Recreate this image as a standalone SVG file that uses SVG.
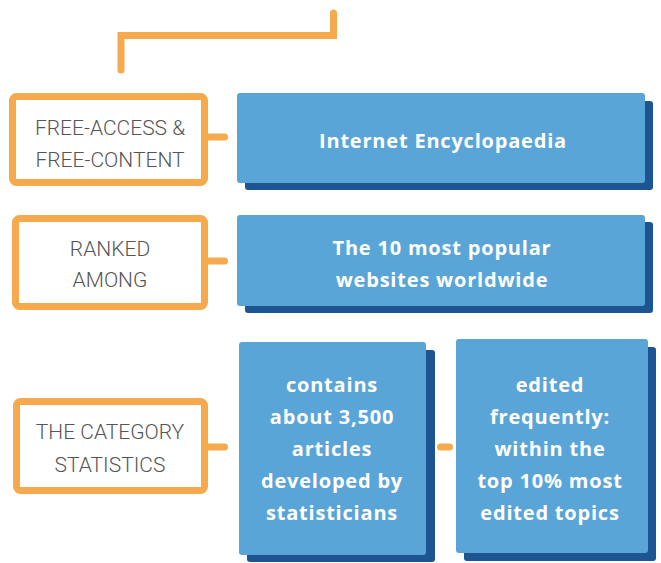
<svg xmlns="http://www.w3.org/2000/svg" width="661" height="563" viewBox="0 0 661 563">
<style>
.lbl{fill:#fff;stroke:#F6A94D;stroke-width:7}
.blue{fill:#5AA5D7}
.shadow{fill:#1D5592}
.con{fill:none;stroke:#F6A94D;stroke-width:7;stroke-linecap:round}
.g{font-family:Roboto,"Liberation Sans",sans-serif;font-weight:300;font-size:21px;fill:#555;text-anchor:middle}
.w{font-family:"Open Sans","Liberation Sans",Arial,sans-serif;font-weight:bold;font-size:20px;fill:#fff;text-anchor:middle;letter-spacing:0.8px}
</style>
<rect width="661" height="563" fill="#fff"/>
<g id="connectors">
<path class="con" d="M333.5,13 V35.5 H121 V70" style="stroke-linejoin:miter"/>
<line class="con" x1="205" y1="137" x2="224.5" y2="137"/>
<line class="con" x1="205" y1="261" x2="224.5" y2="261"/>
<line class="con" x1="205" y1="447" x2="224.5" y2="447"/>
<line class="con" x1="440.5" y1="447" x2="449.5" y2="447"/>
</g>
<g id="free-access">
<rect class="lbl" x="12.5" y="96.5" width="192" height="86" rx="4"/>
<text class="g" x="110" y="135">FREE-ACCESS &amp;</text>
<text class="g" x="110" y="167">FREE-CONTENT</text>
</g>
<g id="internet-encyclopaedia">
<rect class="shadow" x="245" y="101" width="408" height="89" rx="3"/>
<rect class="blue" x="237" y="93" width="408" height="90" rx="3"/>
<text class="w" x="443" y="148">Internet Encyclopaedia</text>
</g>
<g id="ranked-among">
<rect class="lbl" x="15.5" y="218.5" width="189" height="88" rx="4"/>
<text class="g" x="110" y="256">RANKED</text>
<text class="g" x="110" y="287">AMONG</text>
</g>
<g id="top-10">
<rect class="shadow" x="245" y="222" width="408" height="91" rx="3"/>
<rect class="blue" x="237" y="215" width="408" height="91" rx="3"/>
<text class="w" x="442" y="255">The 10 most popular</text>
<text class="w" x="442" y="287">websites worldwide</text>
</g>
<g id="category-statistics">
<rect class="lbl" x="16.5" y="401.5" width="188" height="89" rx="4"/>
<text class="g" x="110" y="439">THE CATEGORY</text>
<text class="g" x="110" y="472">STATISTICS</text>
</g>
<g id="contains-articles">
<rect class="shadow" x="247" y="350" width="188" height="212" rx="3"/>
<rect class="blue" x="239" y="342" width="187" height="213" rx="3"/>
<text class="w" x="332" y="392">contains</text>
<text class="w" x="332" y="424">about 3,500</text>
<text class="w" x="332" y="456">articles</text>
<text class="w" x="332" y="488">developed by</text>
<text class="w" x="332" y="520">statisticians</text>
</g>
<g id="edited-frequently">
<rect class="shadow" x="464" y="347" width="192" height="214" rx="3"/>
<rect class="blue" x="456" y="339" width="192" height="214" rx="3"/>
<text class="w" x="550" y="392">edited</text>
<text class="w" x="550" y="424">frequently:</text>
<text class="w" x="550" y="456">within the</text>
<text class="w" x="550" y="488">top 10% most</text>
<text class="w" x="550" y="520">edited topics</text>
</g>
</svg>
